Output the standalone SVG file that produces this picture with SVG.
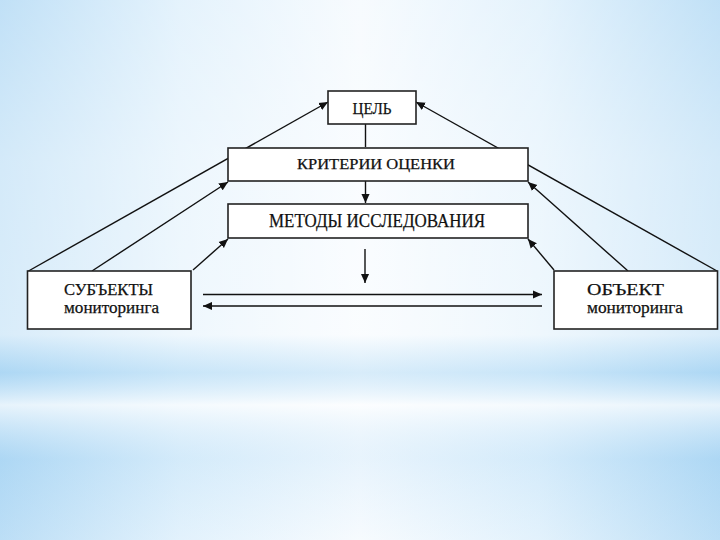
<svg xmlns="http://www.w3.org/2000/svg" width="720" height="540" viewBox="0 0 720 540">
<defs>
<linearGradient id="hg" x1="0" y1="0" x2="1" y2="0">
<stop offset="0" stop-color="#9fd0f2"/>
<stop offset="0.25" stop-color="#d6ecfb"/>
<stop offset="0.5" stop-color="#f3f9fe"/>
<stop offset="0.75" stop-color="#d6ecfb"/>
<stop offset="1" stop-color="#9fd0f2"/>
</linearGradient>
<linearGradient id="vg" x1="0" y1="0" x2="0" y2="1">
<stop offset="0" stop-color="#ffffff" stop-opacity="0.35"/>
<stop offset="0.3" stop-color="#ffffff" stop-opacity="0.55"/>
<stop offset="0.62" stop-color="#ffffff" stop-opacity="0.6"/>
<stop offset="0.69" stop-color="#bcdff6" stop-opacity="0.5"/>
<stop offset="0.75" stop-color="#ffffff" stop-opacity="0.75"/>
<stop offset="0.85" stop-color="#cfe8f9" stop-opacity="0.3"/>
<stop offset="1" stop-color="#ffffff" stop-opacity="0.3"/>
</linearGradient>
<marker id="ah" viewBox="0 0 10 10" refX="10" refY="5" markerWidth="9" markerHeight="9" markerUnits="userSpaceOnUse" orient="auto">
<path d="M0,0.5 L10,5 L0,9.5 Z" fill="#111"/>
</marker>
<style>
.box{fill:#fff;stroke:#222;stroke-width:1.6}
.t{font-family:"Liberation Serif","Times New Roman",serif;fill:#111;stroke:#111;stroke-width:0.25;text-anchor:middle}
.c{stroke:#111;stroke-width:1.4;fill:none}
.a{marker-end:url(#ah)}
</style>
</defs>
<rect width="720" height="540" fill="url(#hg)"/>
<rect width="720" height="540" fill="url(#vg)"/>

<g id="connectors">
<line class="c" x1="365.5" y1="124" x2="365.5" y2="147"/>
<line class="c a" x1="365.5" y1="181" x2="365.5" y2="203"/>
<line class="c a" x1="365" y1="249" x2="365" y2="283"/>
<line class="c a" x1="203" y1="294.5" x2="542" y2="294.5"/>
<line class="c a" x1="542" y1="306" x2="203" y2="306"/>
<line class="c a" x1="28.5" y1="271" x2="328" y2="102"/>
<line class="c a" x1="92" y1="271" x2="228" y2="182"/>
<line class="c a" x1="193" y1="270" x2="228" y2="239"/>
<line class="c a" x1="717" y1="271" x2="416" y2="102"/>
<line class="c a" x1="628" y1="271" x2="528" y2="182"/>
<line class="c a" x1="554" y1="270" x2="528" y2="239"/>
</g>

<g id="goal">
<rect class="box" x="328" y="91" width="88" height="33"/>
<text class="t" x="372" y="114" font-size="17" textLength="39" lengthAdjust="spacingAndGlyphs">ЦЕЛЬ</text>
</g>
<g id="criteria">
<rect class="box" x="228" y="148" width="300" height="33"/>
<text class="t" x="376" y="169" font-size="15" textLength="158" lengthAdjust="spacingAndGlyphs">КРИТЕРИИ  ОЦЕНКИ</text>
</g>
<g id="methods">
<rect class="box" x="228" y="204" width="300" height="34"/>
<text class="t" x="377" y="227" font-size="19" textLength="216" lengthAdjust="spacingAndGlyphs">МЕТОДЫ  ИССЛЕДОВАНИЯ</text>
</g>
<g id="subjects">
<rect class="box" x="27.5" y="271" width="163.5" height="58"/>
<text class="t" x="108.5" y="295" font-size="17" textLength="89" lengthAdjust="spacingAndGlyphs">СУБЪЕКТЫ</text>
<text class="t" x="111.5" y="313" font-size="17" textLength="95" lengthAdjust="spacingAndGlyphs">мониторинга</text>
</g>
<g id="object">
<rect class="box" x="554" y="271" width="163.5" height="58"/>
<text class="t" x="625.5" y="295" font-size="17" textLength="77" lengthAdjust="spacingAndGlyphs">ОБЪЕКТ</text>
<text class="t" x="635" y="313" font-size="17" textLength="96" lengthAdjust="spacingAndGlyphs">мониторинга</text>
</g>
</svg>
